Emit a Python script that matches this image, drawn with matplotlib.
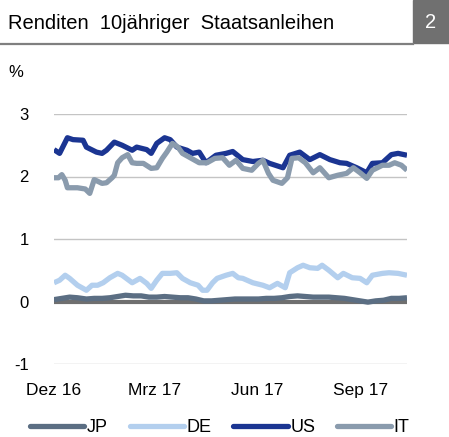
import matplotlib
matplotlib.use("Agg")
import matplotlib.pyplot as plt
import pandas as pd
from matplotlib.patches import Rectangle
from matplotlib.lines import Line2D

plt.rcParams["font.family"] = ["Liberation Sans", "DejaVu Sans"]

TITLE = "Renditen  10jähriger  Staatsanleihen"
CHART_NO = "2"
UNIT = "%"

US_DATES = ["2016-12-01", "2016-12-06", "2016-12-13", "2016-12-18", "2016-12-27", "2016-12-30",
            "2017-01-08", "2017-01-13", "2017-01-17", "2017-01-24", "2017-01-31", "2017-02-09",
            "2017-02-13", "2017-02-22", "2017-02-26", "2017-03-03", "2017-03-10", "2017-03-15",
            "2017-03-21", "2017-03-30", "2017-04-04", "2017-04-10", "2017-04-16", "2017-04-25",
            "2017-05-04", "2017-05-10", "2017-05-19", "2017-05-28", "2017-06-06", "2017-06-12",
            "2017-06-24", "2017-06-30", "2017-07-09", "2017-07-18", "2017-07-27", "2017-08-05",
            "2017-08-14", "2017-08-20", "2017-08-29", "2017-09-07", "2017-09-12", "2017-09-21",
            "2017-09-29", "2017-10-05", "2017-10-13"]
US = [2.43, 2.37, 2.62, 2.59, 2.58, 2.47, 2.39, 2.37, 2.42, 2.55, 2.50, 2.42,
      2.47, 2.43, 2.37, 2.53, 2.62, 2.59, 2.47, 2.42, 2.37, 2.39, 2.22, 2.34,
      2.37, 2.40, 2.27, 2.24, 2.26, 2.21, 2.14, 2.34, 2.39, 2.27, 2.35, 2.27,
      2.22, 2.21, 2.14, 2.06, 2.21, 2.22, 2.35, 2.37, 2.34]

IT_DATES = ["2016-12-01", "2016-12-05", "2016-12-08", "2016-12-11", "2016-12-13", "2016-12-22",
            "2016-12-29", "2017-01-02", "2017-01-06", "2017-01-13", "2017-01-17", "2017-01-22",
            "2017-01-24", "2017-01-27", "2017-01-31", "2017-02-05", "2017-02-09", "2017-02-13",
            "2017-02-19", "2017-02-26", "2017-03-03", "2017-03-08", "2017-03-12", "2017-03-17",
            "2017-03-22", "2017-03-26", "2017-04-03", "2017-04-10", "2017-04-17", "2017-04-24",
            "2017-05-01", "2017-05-07", "2017-05-13", "2017-05-19", "2017-05-27", "2017-06-02",
            "2017-06-06", "2017-06-11", "2017-06-15", "2017-06-23", "2017-06-28", "2017-07-02",
            "2017-07-08", "2017-07-14", "2017-07-21", "2017-07-27", "2017-08-04", "2017-08-12",
            "2017-08-20", "2017-08-26", "2017-09-01", "2017-09-07", "2017-09-12", "2017-09-21",
            "2017-09-27", "2017-10-02", "2017-10-08", "2017-10-13"]
IT = [1.98, 1.98, 2.03, 1.94, 1.82, 1.82, 1.80, 1.73, 1.95, 1.89, 1.90, 1.98,
      2.02, 2.22, 2.30, 2.35, 2.22, 2.21, 2.21, 2.13, 2.14, 2.29, 2.39, 2.53,
      2.47, 2.37, 2.29, 2.22, 2.22, 2.29, 2.30, 2.18, 2.26, 2.13, 2.10, 2.21,
      2.26, 2.05, 1.94, 1.89, 1.98, 2.29, 2.30, 2.22, 2.06, 2.14, 1.98, 2.02,
      2.05, 2.14, 2.06, 1.97, 2.10, 2.18, 2.18, 2.22, 2.18, 2.10]

DE_DATES = ["2016-12-01", "2016-12-06", "2016-12-11", "2016-12-15", "2016-12-22", "2016-12-30",
            "2017-01-04", "2017-01-09", "2017-01-14", "2017-01-20", "2017-01-27", "2017-01-31",
            "2017-02-09", "2017-02-16", "2017-02-22", "2017-02-26", "2017-03-03", "2017-03-08",
            "2017-03-15", "2017-03-21", "2017-03-26", "2017-04-02", "2017-04-09", "2017-04-13",
            "2017-04-17", "2017-04-22", "2017-04-26", "2017-05-04", "2017-05-10", "2017-05-15",
            "2017-05-19", "2017-05-28", "2017-06-06", "2017-06-12", "2017-06-19", "2017-06-26",
            "2017-06-30", "2017-07-07", "2017-07-12", "2017-07-18", "2017-07-25", "2017-07-29",
            "2017-08-04", "2017-08-12", "2017-08-17", "2017-08-25", "2017-09-01", "2017-09-07",
            "2017-09-12", "2017-09-21", "2017-09-27", "2017-10-05", "2017-10-13"]
DE = [0.30, 0.34, 0.42, 0.37, 0.26, 0.18, 0.26, 0.26, 0.30, 0.38, 0.45, 0.42,
      0.30, 0.37, 0.29, 0.21, 0.34, 0.45, 0.45, 0.46, 0.37, 0.30, 0.26, 0.18,
      0.18, 0.30, 0.37, 0.42, 0.45, 0.38, 0.37, 0.30, 0.26, 0.22, 0.29, 0.22,
      0.46, 0.54, 0.58, 0.54, 0.53, 0.58, 0.50, 0.38, 0.45, 0.38, 0.37, 0.30,
      0.42, 0.45, 0.46, 0.45, 0.42]

JP_DATES = ["2016-12-01", "2016-12-08", "2016-12-15", "2016-12-22", "2016-12-30", "2017-01-06",
            "2017-01-13", "2017-01-20", "2017-01-27", "2017-02-03", "2017-02-10", "2017-02-17",
            "2017-02-24", "2017-03-03", "2017-03-10", "2017-03-17", "2017-03-24", "2017-03-31",
            "2017-04-07", "2017-04-14", "2017-04-21", "2017-04-28", "2017-05-05", "2017-05-12",
            "2017-05-19", "2017-05-26", "2017-06-02", "2017-06-09", "2017-06-16", "2017-06-23",
            "2017-06-30", "2017-07-07", "2017-07-14", "2017-07-21", "2017-07-28", "2017-08-04",
            "2017-08-11", "2017-08-18", "2017-08-25", "2017-09-01", "2017-09-08", "2017-09-15",
            "2017-09-22", "2017-09-29", "2017-10-06", "2017-10-13"]
JP = [0.03, 0.05, 0.07, 0.06, 0.04, 0.05, 0.05, 0.06, 0.08, 0.10, 0.09, 0.09,
      0.07, 0.07, 0.08, 0.07, 0.06, 0.06, 0.04, 0.01, 0.01, 0.02, 0.03, 0.04,
      0.04, 0.04, 0.04, 0.05, 0.05, 0.06, 0.08, 0.09, 0.08, 0.07, 0.07, 0.07,
      0.06, 0.05, 0.03, 0.01, -0.01, 0.01, 0.02, 0.05, 0.05, 0.06]

TICK_DATES = ["2016-12-01", "2017-03-01", "2017-06-01", "2017-09-01"]
TICK_LABELS = ["Dez 16", "Mrz 17", "Jun 17", "Sep 17"]
Y_TICKS = [-1, 0, 1, 2, 3]

COLORS = {"JP": "#5b6e83", "DE": "#b3cfee", "US": "#1b3592", "IT": "#8a9bad"}
LW = 3.8

fig = plt.figure(figsize=(4.49, 4.37), dpi=100)
ax = fig.add_axes([54 / 449, 1 - 364 / 437, (407 - 54) / 449, 250 / 437])

for y in Y_TICKS:
    if y != 0:
        ax.axhline(y, color="#c4c4c4", lw=1.0, zorder=1)
ax.axhline(0, color="#6f6f6f", lw=3.0, zorder=1.5)

# drawing order: DE, JP, US, then IT on top
series = [("DE", DE_DATES, DE), ("JP", JP_DATES, JP), ("US", US_DATES, US), ("IT", IT_DATES, IT)]
for name, d, v in series:
    ax.plot(pd.to_datetime(d), v, color=COLORS[name], lw=LW, solid_capstyle="butt",
            solid_joinstyle="round", zorder=2)

ax.set_xlim(pd.Timestamp("2016-12-01"), pd.Timestamp("2017-10-13"))
ax.set_ylim(-1, 3)
ax.set_yticks(Y_TICKS)
ax.set_yticklabels([str(t) for t in Y_TICKS])
ax.set_xticks(pd.to_datetime(TICK_DATES))
ax.set_xticklabels(TICK_LABELS)
ax.tick_params(axis="y", length=0, pad=18, labelsize=12)
ax.tick_params(axis="x", length=0, pad=14, labelsize=12.5)
for s in ax.spines.values():
    s.set_visible(False)

# header
fig.text(8 / 449, 1 - 29 / 437, TITLE, fontsize=14.5, va="baseline", ha="left")
fig.patches.append(Rectangle((413 / 449, 1 - 43 / 437), 36 / 449, 43 / 437,
                             transform=fig.transFigure, color="#707070", zorder=0))
fig.text(431 / 449, 1 - 22 / 437, CHART_NO, fontsize=14.5, color="white", ha="center", va="center")
fig.add_artist(Line2D([0, 413 / 449], [1 - 44 / 437, 1 - 44 / 437], color="#7f7f7f", lw=1.6))
fig.text(8 / 449, 1 - 77 / 437, UNIT, fontsize=12, va="baseline", ha="left")

handles = [Line2D([], [], color=COLORS[n], lw=LW, solid_capstyle="round") for n in ["JP", "DE", "US", "IT"]]
fig.legend(handles, ["JP", "DE", "US", "IT"], loc="center", bbox_to_anchor=(220 / 449, 1 - 428 / 437),
           ncol=4, frameon=False, fontsize=13, handlelength=3.0, handletextpad=0.15,
           columnspacing=1.2, borderaxespad=0)

fig.savefig("out.png", dpi=100)
